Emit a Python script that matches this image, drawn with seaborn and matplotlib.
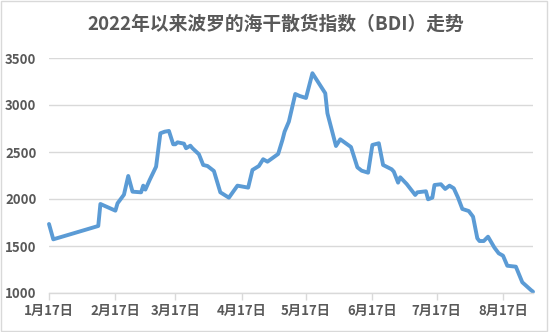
import matplotlib
matplotlib.use("Agg")
import matplotlib.pyplot as plt
from matplotlib.patches import Rectangle
import pandas as pd
import seaborn as sns

title = "2022年以来波罗的海干散货指数（BDI）走势"

dates = [
    "2022-01-17", "2022-01-19", "2022-02-09", "2022-02-10", "2022-02-17", "2022-02-18",
    "2022-02-21", "2022-02-23", "2022-02-25", "2022-03-01", "2022-03-02", "2022-03-03",
    "2022-03-05", "2022-03-08", "2022-03-10", "2022-03-12", "2022-03-14", "2022-03-16",
    "2022-03-17", "2022-03-18", "2022-03-21", "2022-03-22", "2022-03-24", "2022-03-25",
    "2022-03-28", "2022-03-30", "2022-04-01", "2022-04-04", "2022-04-07", "2022-04-11",
    "2022-04-15", "2022-04-20", "2022-04-22", "2022-04-25", "2022-04-27", "2022-04-29",
    "2022-05-04", "2022-05-06", "2022-05-07", "2022-05-09", "2022-05-12", "2022-05-14",
    "2022-05-17", "2022-05-20", "2022-05-26", "2022-05-27", "2022-05-31", "2022-06-02",
    "2022-06-07", "2022-06-10", "2022-06-12", "2022-06-15", "2022-06-17", "2022-06-20",
    "2022-06-22", "2022-06-26", "2022-06-27", "2022-06-29", "2022-06-30", "2022-07-03",
    "2022-07-07", "2022-07-08", "2022-07-12", "2022-07-13", "2022-07-15", "2022-07-16",
    "2022-07-19", "2022-07-21", "2022-07-23", "2022-07-25", "2022-07-27", "2022-07-29",
    "2022-08-01", "2022-08-03", "2022-08-05", "2022-08-06", "2022-08-08", "2022-08-10",
    "2022-08-13", "2022-08-15", "2022-08-17", "2022-08-19", "2022-08-23", "2022-08-26",
    "2022-08-30", "2022-08-31",
]
bdi = [
    1734, 1571, 1713, 1947, 1876, 1954,
    2046, 2245, 2078, 2071, 2142, 2100,
    2202, 2344, 2699, 2716, 2724, 2582,
    2582, 2603, 2589, 2540, 2567, 2540,
    2476, 2362, 2351, 2298, 2071, 2014,
    2142, 2121, 2309, 2351, 2423, 2397,
    2479, 2628, 2716, 2823, 3117, 3096,
    3075, 3338, 3125, 2912, 2564, 2635,
    2553, 2337, 2301, 2280, 2575, 2593,
    2362, 2316, 2291, 2174, 2231, 2160,
    2043, 2071, 2082, 1997, 2014, 2149,
    2157, 2107, 2142, 2114, 2014, 1894,
    1872, 1812, 1582, 1553, 1553, 1599,
    1482, 1422, 1397, 1290, 1280, 1114,
    1032, 1014,
]
tick_dates = ["2022-01-17", "2022-02-17", "2022-03-17", "2022-04-17",
              "2022-05-17", "2022-06-17", "2022-07-17", "2022-08-17"]
tick_labels = ["1月17日", "2月17日", "3月17日", "4月17日",
               "5月17日", "6月17日", "7月17日", "8月17日"]
y_ticks = [1000, 1500, 2000, 2500, 3000, 3500]

sns.set_style("white")
plt.rcParams["font.family"] = ["Noto Sans CJK SC", "DejaVu Sans"]

df = pd.DataFrame({"date": pd.to_datetime(dates), "BDI": bdi})

fig = plt.figure(figsize=(5.53, 3.32), dpi=100)
ax = fig.add_axes([49 / 553, 1 - 293 / 332, (533 - 49) / 553, (293 - 58) / 332])

sns.lineplot(data=df, x="date", y="BDI", ax=ax, color="#5b9bd5", linewidth=2.8,
             solid_joinstyle="round", solid_capstyle="round")
for ln in ax.get_lines():
    ln.set_clip_on(False)

ax.set_xlim(df["date"].iloc[0], df["date"].iloc[-1])
ax.set_ylim(y_ticks[0], y_ticks[-1])
ax.set_yticks(y_ticks)
ax.set_yticklabels([str(v) for v in y_ticks])
ax.set_xticks(pd.to_datetime(tick_dates))
ax.set_xticklabels(tick_labels)
ax.set_xlabel("")
ax.set_ylabel("")

ax.grid(axis="y", color="#d9d9d9", linewidth=1.0)
ax.grid(axis="x", visible=False)
ax.set_axisbelow(True)
for side in ["left", "right", "top"]:
    ax.spines[side].set_visible(False)
ax.spines["bottom"].set_color("#d9d9d9")
ax.spines["bottom"].set_linewidth(1.0)

ax.tick_params(axis="x", which="major", length=5, width=1, color="#d9d9d9",
               direction="out", bottom=True, pad=3, labelsize=9.5, labelcolor="#595959")
ax.tick_params(axis="y", length=0, pad=9, labelsize=9.5, labelcolor="#595959")
for lbl in ax.get_xticklabels() + ax.get_yticklabels():
    lbl.set_fontweight("bold")

fig.text(276 / 553, 1 - 24 / 332, title, ha="center", va="center",
         fontsize=13.5, fontweight="bold", color="#595959")

fig.patches.append(Rectangle((0.002, 0.003), 0.988, 0.994, transform=fig.transFigure,
                             fill=False, edgecolor="#d9d9d9", linewidth=1.0))

fig.savefig("out.png", dpi=100, facecolor="white")
